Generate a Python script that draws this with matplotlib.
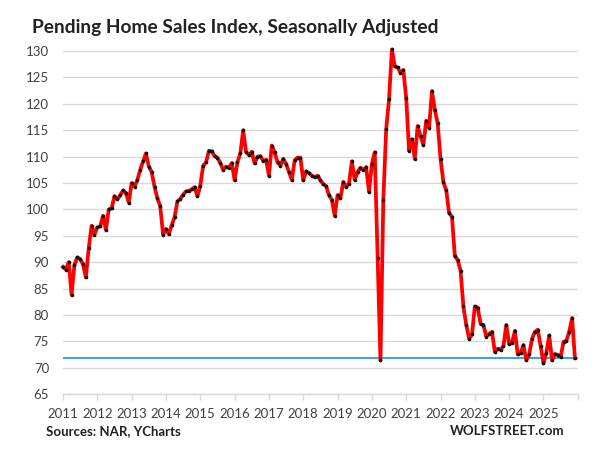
import numpy as np
import matplotlib
matplotlib.use("Agg")
import matplotlib.pyplot as plt

start_year = 2011
values = [
    # 2011
    89.1, 88.6, 90.0, 83.8, 89.5, 90.9, 90.6, 89.6, 87.1, 92.7, 96.9, 95.2,
    # 2012
    96.6, 96.8, 98.8, 96.1, 100.0, 100.2, 102.5, 101.9, 102.7, 103.6, 103.1, 101.3,
    # 2013
    105.0, 104.3, 105.6, 107.5, 109.1, 110.6, 108.1, 107.1, 104.3, 102.1, 100.6, 95.2,
    # 2014
    96.3, 95.3, 97.0, 98.5, 101.5, 102.0, 102.8, 103.4, 103.5, 103.8, 104.2, 102.5,
    # 2015
    104.5, 108.3, 108.9, 111.1, 111.0, 110.1, 109.8, 108.8, 107.5, 108.1, 107.9, 108.8,
    # 2016
    105.5, 109.0, 110.6, 115.0, 110.9, 110.3, 110.9, 108.7, 110.0, 110.1, 109.2, 109.4,
    # 2017
    106.4, 112.1, 110.8, 108.9, 108.3, 109.6, 108.6, 107.1, 105.6, 109.3, 109.8, 109.8,
    # 2018
    105.5, 107.2, 106.9, 106.4, 106.1, 106.4, 105.5, 104.8, 104.4, 102.7, 101.8, 98.8,
    # 2019
    102.7, 102.1, 105.2, 104.3, 104.9, 109.1, 105.6, 107.1, 107.9, 107.5, 108.0, 103.3,
    # 2020
    108.6, 110.8, 90.8, 71.4, 101.8, 115.2, 120.9, 130.3, 127.1, 126.9, 125.9, 126.4,
    # 2021
    121.1, 111.1, 113.3, 109.6, 115.8, 113.9, 112.2, 116.8, 115.5, 122.4, 118.9, 116.3,
    # 2022
    109.6, 105.2, 103.6, 99.3, 98.6, 91.2, 90.4, 88.4, 81.6, 78.1, 75.5, 76.3,
    # 2023
    81.6, 81.4, 78.3, 78.1, 75.9, 76.4, 76.8, 73.0, 73.6, 73.4, 74.1, 78.1,
    # 2024
    74.5, 74.7, 77.0, 72.5, 72.8, 74.3, 71.4, 72.5, 75.5, 76.8, 77.2, 74.1,
    # 2025
    70.8, 72.8, 76.1, 71.4, 72.6, 72.4, 72.0, 74.9, 75.1, 76.8, 79.4, 71.8,
]
reference_level = 71.8
year_ticks = list(range(2011, 2027))
year_labels = [str(y) for y in range(2011, 2026)] + [""]
y_ticks = list(range(65, 131, 5))

title = "Pending Home Sales Index, Seasonally Adjusted"
source_text = "Sources: NAR, YCharts"
brand_text = "WOLFSTREET.com"

plt.rcParams['font.family'] = ['Lato', 'DejaVu Sans']

x = start_year + np.arange(len(values)) / 12.0

fig = plt.figure(figsize=(6.0, 4.54), dpi=100)
ax = fig.add_axes([0.105, 0.132, 0.858, 0.7555])

grid_c = "#d9d9d9"
for yv in y_ticks:
    ax.axhline(yv, color=grid_c, lw=1.0, zorder=1)

ax.axhline(reference_level, color="#2b9bd8", lw=1.3, zorder=2)
ax.plot(x, values, color="#ff0000", lw=2.7, zorder=3, solid_joinstyle="round",
        clip_on=False)
ax.plot(x, values, linestyle="none", marker="o", ms=1.6, color="#111111", zorder=4,
        clip_on=False)

ax.set_xlim(year_ticks[0], year_ticks[-1])
ax.set_ylim(y_ticks[0], y_ticks[-1])
ax.set_yticks(y_ticks)
ax.set_yticklabels([str(v) for v in y_ticks])
ax.set_xticks(year_ticks)
ax.set_xticklabels(year_labels)

for s in ["top", "right", "left"]:
    ax.spines[s].set_visible(False)
ax.spines["bottom"].set_color(grid_c)
ax.spines["bottom"].set_linewidth(1.0)
ax.tick_params(axis="y", length=0, pad=10, labelsize=9.5, labelcolor="#404040")
ax.tick_params(axis="x", length=4, width=1.0, color=grid_c, pad=6, labelsize=9.5, labelcolor="#404040")

fig.text(32 / 600, 1 - 28 / 454, title, fontsize=13.8, fontweight="bold", color="#222222",
         ha="left", va="center")
fig.text(46 / 600, 1 - 431 / 454, source_text, fontsize=9.5, fontweight="bold", color="#222222",
         ha="left", va="center")
fig.text(564 / 600, 1 - 431 / 454, brand_text, fontsize=9.5, fontweight="bold", color="#222222",
         ha="right", va="center")

fig.savefig("out.png", dpi=100, facecolor="white")
